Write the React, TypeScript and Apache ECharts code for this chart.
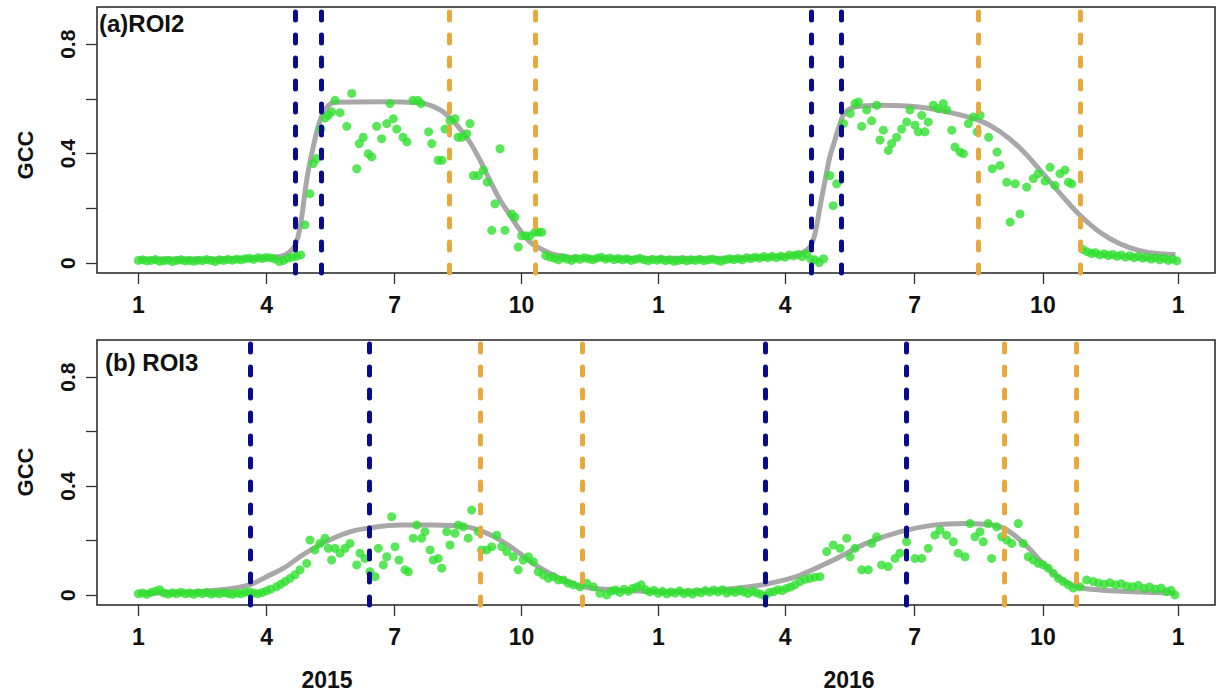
import React, { useEffect, useRef } from "react";
import * as echarts from "echarts";

// x values: day counted from 1 Jan 2015
const tickDays = [0, 90, 180, 269, 365, 454, 545, 635, 730];
const tickLabels = ["1", "4", "7", "10", "1", "4", "7", "10", "1"];
const yTickValues = [0, 0.2, 0.4, 0.6, 0.8];
const yLabelValues = [0, 0.4, 0.8];
const yearLabels = ["2015", "2016"];

// (a) ROI2
const roi2Dots: number[][] = [
  [0,0.01],[3,0.012],[6,0.008],[9,0.01],[12,0.013],[15,0.007],[18,0.009],[21,0.011],[24,0.006],[27,0.01],[30,0.012],[33,0.008],[36,0.01],[39,0.007],[42,0.011],[45,0.009],[48,0.013],[51,0.01],[54,0.006],[57,0.012],[60,0.01],[63,0.014],[66,0.011],[69,0.015],[72,0.012],[75,0.016],[78,0.018],[81,0.014],[84,0.02],[87,0.017],[90,0.021],[93,0.019],[96,0.015],[99,0.006],[102,0.01],[105,0.018],[108,0.022],[111,0.025],[114,0.03],
  [117,0.14],[120.5,0.254],[122.8,0.364],[125.2,0.382],[128.2,0.49],[131,0.53],[133.4,0.54],[135.7,0.553],[138.1,0.595],[141.6,0.55],[146.3,0.5],[149.8,0.62],[153.3,0.345],[155.1,0.437],[157.9,0.46],[161.4,0.4],[163.8,0.388],[167.3,0.5],[170.8,0.455],[174.4,0.51],[176.7,0.583],[179,0.528],[181.4,0.49],[185.8,0.46],[188.6,0.443],[192.8,0.595],[196.3,0.595],[198.4,0.583],[203.8,0.48],[206,0.437],[210.4,0.376],[213.2,0.376],[215.3,0.49],[218.8,0.52],[222.3,0.528],[224.4,0.46],[227.2,0.46],[230.5,0.473],[232.8,0.51],[235.1,0.32],[238.7,0.32],[242.2,0.34],[245,0.296],[248.1,0.12],[250.4,0.217],[253.9,0.418],[257.4,0.12],[262.1,0.18],[264.4,0.168],[266.7,0.059],[269.1,0.1],[272.1,0.1],[274.9,0.1],[278.5,0.113],[280.9,0.113],[283.2,0.113],
  [286,0.028],[289,0.022],[292,0.018],[295,0.012],[298,0.02],[301,0.015],[304,0.01],[307,0.018],[310,0.014],[313,0.02],[316,0.016],[319,0.012],[322,0.018],[325,0.022],[328,0.015],[331,0.019],[334,0.013],[337,0.017],[340,0.012],[343,0.016],[346,0.01],[349,0.014],[352,0.018],[355,0.012],[358,0.009],[361,0.014],[364,0.011],[367,0.015],[370,0.009],[373,0.012],[376,0.007],[379,0.01],[382,0.013],[385,0.008],[388,0.012],[391,0.01],[394,0.014],[397,0.009],[400,0.012],[403,0.015],[406,0.011],[409,0.007],[412,0.012],[415,0.016],[418,0.013],[421,0.017],[424,0.012],[427,0.02],[430,0.017],[433,0.022],[436,0.018],[439,0.024],[442,0.02],[445,0.025],[448,0.02],[451,0.026],[454,0.022],[457,0.03],[460,0.027],[463,0.032],[466,0.024],[469,0.034],[472,0.015],[475,0.012],[478,0.002],[481,0.016],
  [485.5,0.32],[487.8,0.21],[490.2,0.29],[495,0.51],[499.7,0.547],[503.1,0.583],[505.5,0.589],[507.8,0.5],[511.3,0.56],[514.8,0.52],[518.3,0.577],[520.6,0.45],[523,0.486],[526.5,0.412],[528.8,0.437],[532.3,0.46],[535.8,0.49],[539.4,0.516],[541.7,0.56],[545.2,0.504],[547.5,0.48],[549.9,0.54],[552.2,0.48],[554.5,0.516],[558.1,0.577],[561.6,0.565],[565.1,0.583],[567.5,0.56],[571,0.486],[573.3,0.424],[576.8,0.406],[579.2,0.4],[582.7,0.51],[586.2,0.534],[588.9,0.48],[590.9,0.54],[596.9,0.46],[599.5,0.345],[602.8,0.406],[604.9,0.357],[609.6,0.296],[612,0.15],[615.5,0.29],[618.9,0.18],[623.6,0.278],[628.3,0.309],[631.8,0.327],[636.5,0.3],[640,0.35],[643.5,0.284],[647,0.327],[650.5,0.34],[652.9,0.296],[655.2,0.29],
  [663,0.05],[666,0.042],[669,0.035],[672,0.038],[675,0.03],[678,0.034],[681,0.028],[684,0.032],[687,0.025],[690,0.03],[693,0.022],[696,0.027],[699,0.02],[702,0.025],[705,0.018],[708,0.022],[711,0.015],[714,0.02],[717,0.012],[720,0.018],[723,0.01],[726,0.015],[729,0.008]
];
const roi2Curve: number[][] = [
  [0,0.015],[40,0.015],[80,0.018],[100,0.025],[106,0.04],[110,0.065],[113.5,0.13],[118.4,0.31],[122.6,0.42],[127.5,0.52],[132.5,0.57],[138,0.588],[170,0.59],[198,0.585],[212,0.56],[219,0.53],[226,0.49],[233,0.44],[240,0.375],[247,0.3],[254,0.23],[261,0.175],[268,0.12],[275,0.077],[282,0.054],[293,0.03],[310,0.02],[360,0.018],[410,0.018],[450,0.025],[464,0.035],[471.5,0.06],[475,0.108],[478.5,0.205],[482,0.3],[485.5,0.39],[489,0.45],[492.6,0.51],[496,0.55],[503,0.57],[521,0.577],[549,0.57],[570,0.55],[591,0.52],[605,0.48],[619,0.42],[633,0.34],[647,0.255],[661,0.175],[675,0.113],[689,0.071],[703,0.046],[717,0.034],[728,0.032]
];
const roi2Blue = [110.0, 128.7, 472.7, 493.7];
const roi2Orange = [218.3, 278.4, 589.6, 661.0];

// (b) ROI3
const roi3Dots: number[][] = [
  [0,0.005],[3,0.008],[6,0.003],[9,0.01],[12,0.015],[15,0.02],[18,0.008],[21,0.004],[24,0.009],[27,0.006],[30,0.011],[33,0.005],[36,0.008],[39,0.003],[42,0.009],[45,0.006],[48,0.01],[51,0.004],[54,0.008],[57,0.005],[60,0.01],[63,0.006],[66,0.003],[69,0.008],[72,0.005],[75,0.01],[78,0.012],[81,0.008],[84,0.005],[87,0.01],[90,0.016],[93,0.022],[97,0.031],[100,0.04],[103,0.05],[106.5,0.062],[110,0.075],[113.5,0.093],[118.2,0.117],
  [120.5,0.202],[124,0.166],[127.5,0.19],[131,0.209],[133.4,0.172],[135.7,0.129],[138.1,0.172],[141.6,0.154],[145.1,0.172],[148.6,0.19],[153.3,0.111],[155.6,0.154],[159.1,0.135],[162.6,0.086],[166.2,0.068],[168.5,0.172],[172,0.111],[174.4,0.141],[177.9,0.288],[180.2,0.178],[183,0.129],[187.2,0.093],[189.5,0.086],[193,0.209],[195.4,0.257],[198.9,0.209],[201.2,0.233],[204.8,0.166],[207.1,0.129],[210.6,0.135],[213,0.099],[216.5,0.233],[218.8,0.184],[222.3,0.227],[224.6,0.257],[228.1,0.251],[231.6,0.209],[234,0.312],[238.7,0.233],[241,0.166],[244.6,0.166],[248.1,0.178],[251.6,0.22],[255.1,0.178],[258.6,0.16],[263.2,0.141],[266.7,0.093],[270.2,0.129],[273.8,0.141],[277.3,0.123],[280.8,0.086],[284.3,0.074],[287.8,0.062],[291.3,0.068],[294.8,0.056],[298.3,0.056],[301.8,0.044],[305.3,0.038],[310,0.031],[314.7,0.044],[319.4,0.031],[324,0.007],[328.8,0.001],
  [332,0.015],[335,0.019],[338,0.01],[341,0.022],[344,0.014],[347,0.025],[350,0.03],[353,0.038],[356,0.02],[359,0.012],[362,0.018],[365,0.007],[368,0.014],[371,0.005],[374,0.012],[377,0.008],[380,0.016],[383,0.006],[386,0.011],[389,0.004],[392,0.013],[395,0.009],[398,0.017],[401,0.011],[404,0.019],[407,0.012],[410,0.02],[413,0.008],[416,0.015],[419,0.01],[422,0.018],[425,0.012],[428,0.006],[431,0.014],[434,0.009],[437,0.003],[440,-0.003],[443,0.01],[446,0.013],[449,0.02],[452,0.017],[455,0.025],[458,0.03],[461,0.038],[464.5,0.05],[468,0.058],[471.5,0.062],[475,0.066],[478.5,0.068],
  [483.2,0.16],[487.8,0.184],[492.6,0.172],[497.3,0.209],[499.6,0.141],[503.1,0.172],[507.8,0.093],[512.4,0.093],[514.8,0.19],[518.3,0.214],[521.8,0.111],[526.4,0.105],[531.2,0.135],[534.6,0.154],[539.3,0.196],[545.2,0.135],[549.9,0.135],[554.5,0.172],[559.2,0.22],[562.7,0.239],[567.4,0.22],[572.1,0.196],[575.6,0.154],[580.3,0.141],[583.8,0.263],[587.3,0.214],[590.8,0.233],[593.1,0.196],[596.6,0.263],[599,0.135],[602.5,0.251],[606.1,0.214],[609.6,0.202],[613.1,0.19],[617.7,0.263],[621.2,0.19],[624.7,0.141],[628.2,0.129],[631.7,0.117],[635.3,0.111],[638.8,0.099],[642.3,0.08],[645.8,0.062],[649.3,0.05],[652.8,0.038],[656.3,0.026],[661,0.031],[665.7,0.056],[670.3,0.05],[674,0.045],[678,0.04],[682,0.046],[686,0.038],[690,0.042],[694,0.033],[698,0.031],[702,0.036],[706,0.025],[710,0.03],[714,0.022],[718,0.026],[721.8,0.013],[725,0.018],[727.7,0.001]
];
const roi3Curve: number[][] = [
  [0,0.007],[30,0.01],[55,0.018],[78,0.038],[90,0.068],[102,0.099],[113.5,0.141],[125,0.178],[137,0.209],[149,0.233],[160,0.245],[184,0.257],[207,0.257],[230,0.251],[242,0.233],[254,0.202],[266,0.16],[277,0.117],[289,0.08],[301,0.05],[312,0.031],[336,0.019],[371,0.013],[406,0.019],[429,0.031],[441,0.041],[453,0.055],[464,0.072],[488,0.129],[511,0.19],[535,0.233],[558,0.257],[581,0.263],[600,0.257],[610,0.239],[624,0.178],[635,0.117],[647,0.062],[659,0.031],[675,0.019],[698,0.013],[728,0.007]
];
const roi3Blue = [78.5, 162.0, 440.4, 539.3];
const roi3Orange = [239.8, 311.9, 607.6, 658.2];

const FONT = "'Liberation Sans', Arial, sans-serif";
const GREEN = "#2FE02F";
const GRAY = "#A8A8A8";
const BLUE = "#0A0A8C";
const ORANGE = "#E6AA3C";

function vLines(days: number[], color: string) {
  return {
    silent: true,
    symbol: "none",
    label: { show: false },
    lineStyle: { color, width: 5, type: [8, 15], cap: "round" },
    data: days.map((d) => ({ xAxis: d })),
  };
}

export default function App() {
  const ref = useRef<HTMLDivElement>(null);
  useEffect(() => {
    if (!ref.current) return;
    const chart = echarts.init(ref.current, null, { renderer: "svg" });
    const labelMap: Record<string, string> = {};
    tickDays.forEach((d, i) => (labelMap[String(d)] = tickLabels[i]));
    const mkX = (gi: number) => ({
      type: "value",
      gridIndex: gi,
      position: "bottom",
      min: -29,
      max: 755.8,
      axisLine: { show: false, onZero: false },
      splitLine: { show: false },
      axisTick: { show: true, length: 11, customValues: tickDays, lineStyle: { color: "#333", width: 1.3 } },
      axisLabel: {
        customValues: tickDays,
        margin: 20,
        fontFamily: FONT,
        fontWeight: "bold",
        fontSize: 23,
        color: "#111",
        formatter: (v: number) => labelMap[String(v)] ?? "",
      },
    });
    const mkY = (gi: number) => ({
      type: "value",
      gridIndex: gi,
      position: "left",
      min: -0.036,
      max: 0.936,
      axisLine: { show: false, onZero: false },
      splitLine: { show: false },
      axisTick: { show: true, length: 11, customValues: yTickValues, lineStyle: { color: "#333", width: 1.3 } },
      axisLabel: {
        customValues: yLabelValues,
        rotate: 90,
        margin: 19,
        fontFamily: FONT,
        fontWeight: "bold",
        fontSize: 21,
        color: "#111",
        formatter: (v: number) => (v === 0 ? "0" : v.toFixed(1)),
      },
    });
    const panel = (gi: number, dots: number[][], curve: number[][], blue: number[], orange: number[]) => [
      {
        type: "line",
        xAxisIndex: gi,
        yAxisIndex: gi,
        data: curve,
        smooth: 0.4,
        showSymbol: false,
        lineStyle: { color: GRAY, width: 5 },
        z: 2,
      },
      {
        type: "scatter",
        xAxisIndex: gi,
        yAxisIndex: gi,
        data: dots,
        symbolSize: 9,
        itemStyle: { color: GREEN },
        z: 3,
      },
      {
        type: "line",
        xAxisIndex: gi,
        yAxisIndex: gi,
        data: [],
        markLine: vLines(blue, BLUE),
        z: 4,
      },
      {
        type: "line",
        xAxisIndex: gi,
        yAxisIndex: gi,
        data: [],
        markLine: vLines(orange, ORANGE),
        z: 4,
      },
    ];
    const txt = (text: string, x: number, y: number, size: number, rot = 0, align = "center") => ({
      type: "text",
      x,
      y,
      rotation: rot,
      style: {
        text,
        fontFamily: FONT,
        fontWeight: "bold",
        fontSize: size,
        fill: "#111",
        textAlign: align,
        textVerticalAlign: "middle",
      },
      z: 10,
    });
    chart.setOption({
      animation: false,
      backgroundColor: "#fff",
      grid: [
        { left: 97, top: 7, width: 1118, height: 266, show: true, borderColor: "#222", borderWidth: 1.5, backgroundColor: "transparent" },
        { left: 97, top: 340, width: 1118, height: 265, show: true, borderColor: "#222", borderWidth: 1.5, backgroundColor: "transparent" },
      ],
      xAxis: [mkX(0), mkX(1)],
      yAxis: [mkY(0), mkY(1)],
      series: [...panel(0, roi2Dots, roi2Curve, roi2Blue, roi2Orange), ...panel(1, roi3Dots, roi3Curve, roi3Blue, roi3Orange)],
      graphic: [
        txt("GCC", 25, 155, 22, Math.PI / 2),
        txt("GCC", 25, 472, 22, Math.PI / 2),
        txt("(a)ROI2", 99, 23, 24, 0, "left"),
        txt("(b) ROI3", 105, 362, 24, 0, "left"),
        txt(yearLabels[0], 327, 680, 23),
        txt(yearLabels[1], 849, 680, 23),
      ],
    });
    return () => chart.dispose();
  }, []);
  return (
    <div
      ref={ref}
      style={{ position: "fixed", left: 0, top: 0, width: 1216, height: 697, background: "#fff" }}
    />
  );
}
